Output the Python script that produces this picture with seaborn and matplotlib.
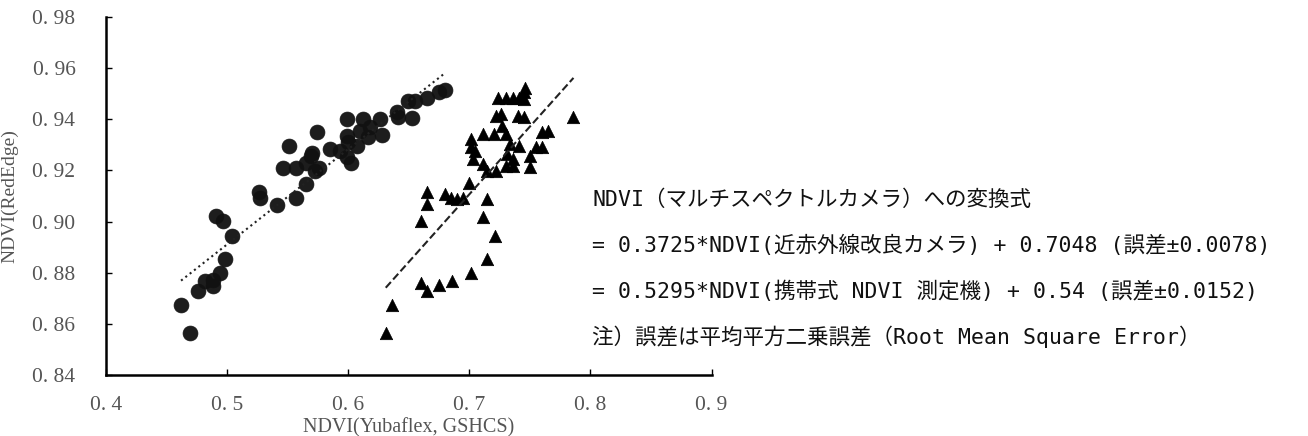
import numpy as np
import pandas as pd
import matplotlib
matplotlib.use("Agg")
import matplotlib.pyplot as plt
import seaborn as sns

# near-infrared modified camera (circles)
cam_x = [0.462, 0.469, 0.476, 0.482, 0.488, 0.488, 0.494, 0.498, 0.504, 0.491,
         0.497, 0.526, 0.527, 0.541, 0.557, 0.546, 0.557, 0.551, 0.565, 0.565,
         0.569, 0.570, 0.573, 0.576, 0.574, 0.585, 0.593, 0.599, 0.602, 0.600,
         0.599, 0.599, 0.607, 0.610, 0.612, 0.616, 0.618, 0.626, 0.628, 0.640,
         0.641, 0.649, 0.653, 0.655, 0.665, 0.675, 0.680]
cam_y = [0.8674, 0.8565, 0.8728, 0.8767, 0.8771, 0.8748, 0.8798, 0.8852, 0.8942, 0.9023,
         0.9004, 0.9117, 0.9093, 0.9066, 0.9093, 0.9210, 0.9210, 0.9295, 0.9148, 0.9229,
         0.9256, 0.9268, 0.9198, 0.9210, 0.9350, 0.9284, 0.9276, 0.9252, 0.9229, 0.9311,
         0.9334, 0.9400, 0.9295, 0.9353, 0.9400, 0.9330, 0.9369, 0.9400, 0.9338, 0.9427,
         0.9408, 0.9470, 0.9404, 0.9470, 0.9482, 0.9505, 0.9513]

# handheld NDVI meter (triangles)
meter_x = [0.631, 0.636, 0.660, 0.665, 0.675, 0.686, 0.701, 0.715, 0.721, 0.711,
           0.715, 0.660, 0.665, 0.665, 0.680, 0.685, 0.690, 0.695, 0.700, 0.715,
           0.722, 0.701, 0.701, 0.711, 0.720, 0.705, 0.703, 0.711, 0.730, 0.736,
           0.736, 0.731, 0.727, 0.730, 0.722, 0.726, 0.724, 0.730, 0.736, 0.741,
           0.745, 0.746, 0.745, 0.740, 0.745, 0.741, 0.750, 0.750, 0.755, 0.760,
           0.760, 0.765, 0.786, 0.734]
meter_y = [0.8565, 0.8674, 0.8759, 0.8728, 0.8751, 0.8767, 0.8798, 0.8852, 0.8942, 0.9019,
           0.9089, 0.9004, 0.9070, 0.9117, 0.9109, 0.9093, 0.9089, 0.9093, 0.9151, 0.9198,
           0.9198, 0.9322, 0.9291, 0.9342, 0.9342, 0.9276, 0.9245, 0.9225, 0.9217, 0.9217,
           0.9245, 0.9264, 0.9373, 0.9342, 0.9412, 0.9419, 0.9482, 0.9482, 0.9482, 0.9482,
           0.9478, 0.9524, 0.9505, 0.9412, 0.9408, 0.9295, 0.9256, 0.9214, 0.9291, 0.9291,
           0.9350, 0.9353, 0.9408, 0.9303]

# conversion equations (slope, intercept)
cam_fit = (0.3725, 0.7048)
meter_fit = (0.5295, 0.54)

x_ticks = [0.4, 0.5, 0.6, 0.7, 0.8, 0.9]
y_ticks = [0.84, 0.86, 0.88, 0.90, 0.92, 0.94, 0.96, 0.98]

notes = [
    "NDVI（マルチスペクトルカメラ）への変換式",
    "= 0.3725*NDVI(近赤外線改良カメラ) + 0.7048 (誤差±0.0078)",
    "= 0.5295*NDVI(携帯式 NDVI 測定機) + 0.54 (誤差±0.0152)",
    "注）誤差は平均平方二乗誤差（Root Mean Square Error）",
]

sns.set_theme(style="ticks")
plt.rcParams['font.family'] = ['Liberation Serif', 'Noto Sans CJK JP']

fig = plt.figure(figsize=(13.08, 4.36), dpi=100)
ax = fig.add_axes([0.081, 0.140, 0.463, 0.821])

sns.scatterplot(x=cam_x, y=cam_y, ax=ax, marker="o", s=115, color="#111111",
                edgecolor="#111111", linewidth=0.5, alpha=0.95)
sns.scatterplot(x=meter_x, y=meter_y, ax=ax, marker="^", s=80, color="#000000",
                edgecolor="#000000", linewidth=0.5)

for xs, fit, ls in [(cam_x, cam_fit, ":"), (meter_x, meter_fit, "--")]:
    lx = np.array([min(xs), max(xs)])
    line = pd.DataFrame({"x": lx, "y": fit[0] * lx + fit[1]})
    sns.lineplot(data=line, x="x", y="y", ax=ax, color="#222222",
                 linestyle=ls, linewidth=1.5)

ax.set_xlim(0.4, 0.9)
ax.set_ylim(0.84, 0.98)
ax.set_xticks(x_ticks)
ax.set_yticks(y_ticks)
ax.set_xticklabels([f"{v:.1f}".replace(".", ". ") for v in x_ticks])
ax.set_yticklabels([f"{v:.2f}".replace(".", ". ") for v in y_ticks])
ax.tick_params(direction="in", length=4, width=1, colors="#000000",
               labelcolor="#555555", labelsize=15.5)
ax.tick_params(axis="y", pad=22)
ax.tick_params(axis="x", pad=15)
for side in ["left", "bottom"]:
    ax.spines[side].set_linewidth(1.8)
    ax.spines[side].set_color("#000000")
sns.despine(ax=ax)

ax.set_xlabel("NDVI(Yubaflex, GSHCS)", fontsize=14.5, color="#555555", labelpad=2)
ax.set_ylabel("NDVI(RedEdge)", fontsize=14, color="#555555")
ax.yaxis.set_label_coords(-0.145, 0.5)

for i, t in enumerate(notes):
    fig.text(0.4526, 0.5413 - i * 0.1048, t, fontsize=15.5, va="center", ha="left",
             color="#111111", family=['DejaVu Sans Mono', 'Noto Sans CJK JP'])

fig.savefig("out.png", dpi=100)
